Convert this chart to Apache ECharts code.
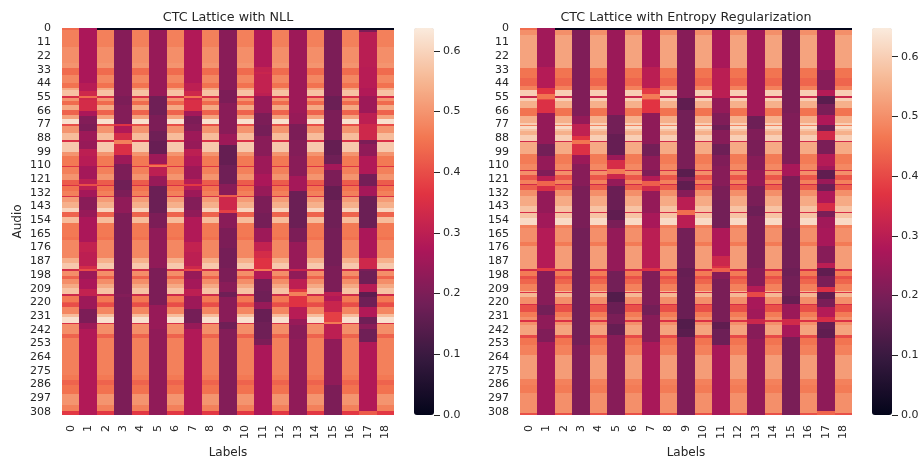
<!DOCTYPE html>
<html><head><meta charset="utf-8">
<style>html,body{margin:0;padding:0;background:#fff}#c{width:924px;height:459px}</style>
<script src="https://cdn.jsdelivr.net/npm/echarts@6/dist/echarts.min.js"></script>
</head><body><div id="c"></div>
<script>
// Every profile is a flat list: first row of a band, value of that band, ...
const rowCount = 311;
const labels = ['0','1','2','3','4','5','6','7','8','9','10','11','12','13','14','15','16','17','18'];
const blackRows = 2;
const cbarTicks = [0,0.1,0.2,0.3,0.4,0.5,0.6];
const nllMax = 0.6375, entMax = 0.648;
const rocket = ['#03051A','#35193E','#701F57','#AD1759','#E13342','#F37651','#F6B48F','#FAEBDD'];

const nllEven = [0,.44, 2,.47, 15,.49, 28,.5, 32,.44, 38,.48, 44,.45, 48,.53, 50,.57, 55,.35, 56,.5, 59,.44, 62,.53, 66,.43, 70,.52, 73,.62, 77,.4, 79,.5, 84,.56, 90,.35, 92,.58, 100,.5, 103,.46, 111,.36, 112,.47, 117,.5, 122,.42, 126,.35, 127,.45, 131,.47, 135,.35, 136,.51, 140,.54, 145,.6, 148,.43, 152,.56, 157,.46,
  168,.45, 170,.48, 185,.54, 189,.58, 194,.34, 195,.49, 199,.43, 202,.49, 206,.53, 209,.57, 214,.33, 215,.46, 220,.42, 221,.4, 224,.48, 230,.56, 232,.62, 237,.35, 238,.49, 246,.43, 249,.47, 279,.46, 283,.43, 287,.45, 294,.5, 303,.47, 308,.37];
const nllC1 = [0,.27, 44,.29, 51,.33, 55,.44, 56,.33, 58,.34, 67,.27, 71,.21, 77,.2, 83,.25, 91,.24, 97,.3, 103,.29, 111,.26, 121,.3, 125,.4, 127,.3, 130,.26, 136,.22, 146,.24, 152,.27, 172,.31, 180,.3, 191,.34, 194,.4, 195,.25, 202,.27, 210,.31, 215,.25, 226,.2, 237,.25, 242,.28];
const nllC3 = [0,.215, 55,.2, 62,.21, 77,.36, 79,.28, 84,.34, 90,.47, 93,.35, 102,.25, 109,.2, 122,.18, 130,.2, 136,.23, 149,.2, 214,.21, 216,.2];
const nllC5 = [0,.24, 55,.18, 70,.2, 83,.18, 91,.17, 101,.25, 109,.37, 110,.45, 112,.3, 119,.24, 127,.175, 149,.2, 161,.23, 193,.2, 223,.24, 242,.23];
const nllC7 = [0,.28, 44,.3, 51,.33, 55,.45, 56,.33, 58,.35, 67,.26, 71,.2, 77,.21, 83,.25, 91,.24, 97,.3, 103,.28, 111,.25, 121,.29, 125,.37, 127,.29, 130,.25, 136,.21, 146,.23, 152,.28, 172,.31, 180,.3, 191,.33, 194,.39, 195,.24, 202,.26, 210,.3, 215,.25, 226,.19, 237,.24, 242,.28];
const nllC9 = [0,.22, 50,.2, 60,.22, 85,.25, 94,.165, 110,.18, 125,.22, 134,.42, 136,.33, 146,.38, 149,.22, 161,.2, 177,.19, 193,.2, 204,.22, 212,.18, 216,.22, 236,.18, 242,.21];
const nllC11 = [0,.25, 2,.28, 31,.31, 35,.32, 37,.31, 52,.3, 55,.24, 68,.2, 78,.19, 87,.22, 103,.25, 117,.27, 127,.24, 135,.2, 149,.19, 161,.25, 172,.31, 179,.34, 185,.36, 194,.46, 195,.28, 202,.19, 211,.18, 220,.24, 226,.17, 236,.18, 250,.2, 255,.27];
const nllC13 = [0,.25, 68,.24, 77,.2, 90,.21, 103,.22, 119,.26, 131,.175, 161,.2, 172,.24, 194,.32, 195,.23, 202,.3, 210,.37, 212,.47, 215,.36, 224,.29, 234,.24, 239,.22, 250,.23];
const nllC15 = [0,.2, 55,.175, 66,.2, 90,.165, 102,.18, 109,.26, 114,.2, 127,.165, 138,.18, 161,.19, 191,.2, 212,.3, 215,.28, 219,.32, 228,.38, 236,.46, 238,.3, 250,.23, 287,.2];
const nllC17 = [0,.2, 3,.295, 31,.29, 48,.28, 55,.25, 68,.3, 77,.33, 90,.2, 93,.23, 103,.28, 117,.19, 127,.26, 135,.175, 161,.27, 185,.33, 194,.2, 195,.18, 206,.29, 212,.155, 216,.18, 224,.28, 232,.18, 238,.22, 242,.18, 252,.28, 308,.42];

const entEven = [0,.45, 2,.5, 6,.53, 32,.46, 40,.44, 47,.48, 50,.6, 55,.33, 56,.6, 59,.55, 64,.46, 71,.55, 76,.6, 78,.48, 79,.62, 81,.58, 83,.55, 86,.6, 91,.34, 92,.54, 101,.47, 109,.49, 114,.35, 115,.5, 118,.42, 122,.48, 125,.34, 126,.43, 130,.5, 135,.54, 143,.58, 148,.35, 149,.58, 153,.62, 158,.48,
  161,.5, 172,.47, 175,.52, 194,.35, 195,.47, 199,.41, 202,.44, 206,.48, 211,.56, 212,.36, 213,.56, 216,.5, 222,.35, 223,.41, 228,.47, 232,.5, 235,.36, 236,.5, 239,.53, 247,.4, 249,.46, 255,.48, 263,.52, 282,.48, 287,.47, 293,.5, 309,.41];
const entC1 = [0,.26, 31,.29, 48,.37, 53,.46, 57,.4, 58,.36, 68,.24, 93,.19, 103,.24, 114,.21, 119,.3, 123,.44, 127,.35, 131,.24, 149,.26, 161,.29, 193,.38, 195,.22, 223,.19, 231,.23, 242,.21, 252,.26];
const entC3 = [0,.21, 71,.24, 77,.31, 87,.37, 90,.46, 93,.36, 102,.25, 109,.22, 127,.2, 161,.19, 255,.21];
const entC5 = [0,.25, 70,.19, 85,.17, 102,.25, 106,.35, 113,.47, 117,.33, 121,.24, 127,.175, 146,.16, 154,.2, 161,.24, 195,.19, 212,.14, 220,.175, 230,.2, 238,.17, 247,.22];
const entC7 = [0,.27, 31,.3, 48,.38, 53,.47, 57,.41, 58,.37, 68,.23, 93,.19, 103,.23, 114,.21, 119,.29, 123,.43, 127,.34, 131,.24, 149,.27, 161,.3, 193,.36, 195,.21, 223,.19, 231,.22, 242,.22, 252,.27];
const entC9 = [0,.22, 56,.16, 66,.19, 90,.2, 113,.15, 120,.2, 123,.16, 130,.22, 136,.3, 146,.45, 150,.3, 161,.19, 193,.17, 200,.175, 234,.14, 242,.15, 248,.21];
const entC11 = [0,.27, 32,.3, 56,.24, 68,.21, 78,.18, 82,.22, 93,.18, 102,.21, 111,.22, 127,.2, 138,.19, 161,.28, 183,.33, 191,.36, 193,.43, 196,.22, 202,.2, 236,.16, 242,.18, 255,.27];
const entC13 = [0,.26, 71,.18, 81,.21, 90,.2, 103,.22, 114,.24, 127,.2, 143,.18, 151,.2, 193,.22, 207,.29, 212,.4, 216,.27, 226,.26, 234,.33, 238,.22, 250,.24];
const entC15 = [0,.2, 68,.21, 109,.27, 119,.2, 161,.19, 193,.18, 199,.19, 215,.17, 222,.25, 234,.34, 239,.27, 248,.2];
const entC17 = [0,.255, 34,.22, 50,.29, 55,.15, 61,.2, 70,.28, 78,.18, 83,.34, 90,.2, 101,.29, 111,.26, 114,.16, 121,.25, 125,.18, 131,.28, 141,.35, 147,.2, 152,.26, 161,.27, 175,.22, 189,.3, 193,.16, 199,.2, 208,.36, 212,.16, 218,.2, 224,.29, 232,.35, 236,.17, 242,.16, 249,.23, 308,.44];

const nllCols = [nllEven,nllC1,nllEven,nllC3,nllEven,nllC5,nllEven,nllC7,nllEven,nllC9,nllEven,nllC11,nllEven,nllC13,nllEven,nllC15,nllEven,nllC17,nllEven];
const entCols = [entEven,entC1,entEven,entC3,entEven,entC5,entEven,entC7,entEven,entC9,entEven,entC11,entEven,entC13,entEven,entC15,entEven,entC17,entEven];

function cells(cols){
  const out = [];
  cols.forEach((p,c)=>{
    let k = 0;
    for(let r=0;r<rowCount;r++){
      while(k+2<p.length && p[k+2]<=r) k+=2;
      out.push([c,r,(c>=2 && r<blackRows)?0:p[k+1]]);
    }
  });
  return out;
}
const rows = Array.from({length:rowCount},(_,i)=>String(i));
const ink = '#262626', font = 'DejaVu Sans';
function panel(i,left,width,name){
  return {
    grid:{left:left,top:28,width:width,height:387,containLabel:false,outerBoundsMode:'none'},
    x:{gridIndex:i,type:'category',data:labels,name:'Labels',nameLocation:'middle',nameGap:32,
       nameTextStyle:{color:ink,fontFamily:font,fontSize:12},
       axisLine:{show:false},axisTick:{show:false},splitLine:{show:false},splitArea:{show:false},
       axisLabel:{rotate:90,interval:0,margin:10,color:ink,fontFamily:font,fontSize:11}},
    y:{gridIndex:i,type:'category',inverse:true,data:rows,name:name,nameLocation:'middle',nameGap:38,
       nameTextStyle:{color:ink,fontFamily:font,fontSize:12},
       axisLine:{show:false},axisTick:{show:false},splitLine:{show:false},splitArea:{show:false},
       axisLabel:{interval:10,margin:11,color:ink,fontFamily:font,fontSize:11}}
  };
}
function cbarAxis(i,left){
  return {
    grid:{left:left,top:28,width:20,height:387,outerBoundsMode:'none'},
    x:{gridIndex:i,type:'category',data:[''],show:false},
    y:{gridIndex:i,type:'value',position:'right',min:0,max:i===2?nllMax:entMax,
       axisLine:{show:false},splitLine:{show:false},
       axisTick:{show:true,length:6,lineStyle:{color:ink,width:1},customValues:cbarTicks},
       axisLabel:{margin:9,color:ink,fontFamily:font,fontSize:11,customValues:cbarTicks,formatter:v=>v.toFixed(1)}}
  };
}
const p0 = panel(0,62,332,'Audio'), p1 = panel(1,520,332,'');
const b0 = cbarAxis(2,414), b1 = cbarAxis(3,872);
const chart = echarts.init(document.getElementById('c'),null,{renderer:'canvas'});
function drawCell(params,api){
  const pos = api.coord([api.value(0),api.value(1)]);
  const size = api.size([1,1]);
  const x0 = Math.round(pos[0]-size[0]/2), x1 = Math.round(pos[0]+size[0]/2);
  const y0 = Math.round(pos[1]-size[1]/2), y1 = Math.round(pos[1]+size[1]/2);
  return {type:'rect',shape:{x:x0,y:y0,width:x1-x0,height:y1-y0},style:{fill:api.visual('color')},silent:true};
}
const heat = (i,data)=>({type:'custom',renderItem:drawCell,xAxisIndex:i,yAxisIndex:i,data:data,encode:{x:0,y:1},progressive:0,animation:false,silent:true});
const vm = (i,left,max)=>({type:'continuous',seriesIndex:i,dimension:2,min:0,max:max,left:left,top:28,itemWidth:20,itemHeight:387,padding:0,text:null,showLabel:false,calculable:false,hoverLink:false,realtime:false,inRange:{color:rocket},textStyle:{color:'rgba(0,0,0,0)',fontSize:1}});
chart.setOption({
  animation:false,backgroundColor:'#fff',tooltip:{show:false},
  title:[
    {text:'CTC Lattice with NLL',left:223,top:6,textAlign:'center',textStyle:{color:ink,fontFamily:font,fontSize:12.7,fontWeight:'normal'}},
    {text:'CTC Lattice with Entropy Regularization',left:681,top:6,textAlign:'center',textStyle:{color:ink,fontFamily:font,fontSize:12.7,fontWeight:'normal'}}
  ],
  grid:[p0.grid,p1.grid,b0.grid,b1.grid],
  xAxis:[p0.x,p1.x,b0.x,b1.x],
  yAxis:[p0.y,p1.y,b0.y,b1.y],
  visualMap:[vm(0,414,nllMax),vm(1,872,entMax)],
  series:[heat(0,cells(nllCols)),heat(1,cells(entCols))]
});
</script></body></html>
